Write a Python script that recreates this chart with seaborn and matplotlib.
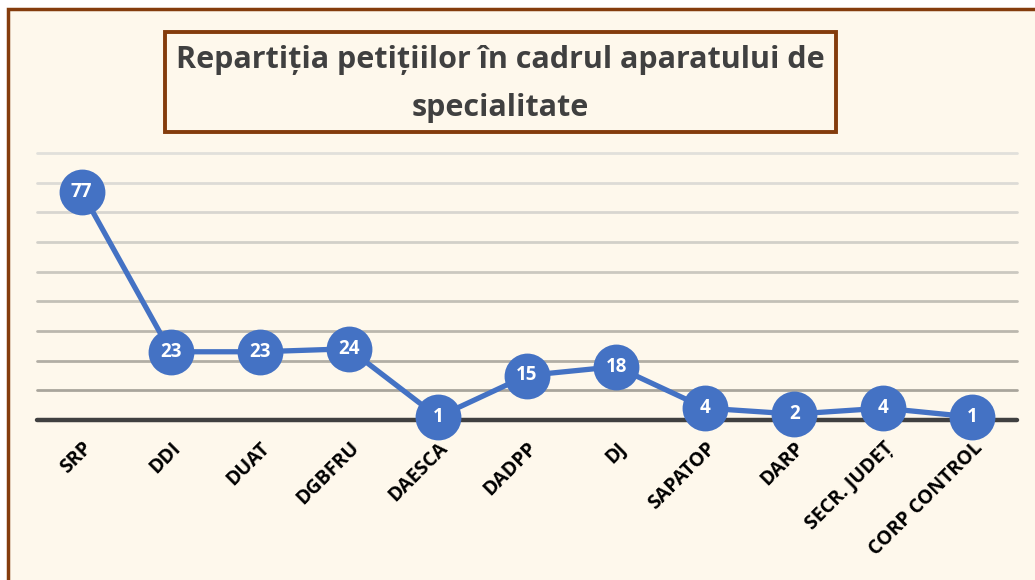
import matplotlib
matplotlib.use("Agg")
import matplotlib.pyplot as plt
import seaborn as sns
import pandas as pd
from matplotlib.patches import Rectangle

# ==============================
# Data
# ==============================
categories = ["SRP", "DDI", "DUAT", "DGBFRU", "DAESCA", "DADPP", "DJ",
              "SAPATOP", "DARP", "SECR. JUDEȚ", "CORP CONTROL"]
petitions = [77, 23, 23, 24, 1, 15, 18, 4, 2, 4, 1]
title = "Repartiția petițiilor în cadrul aparatului de\nspecialitate"

BG = "#FEF8EC"
BROWN = "#843C0C"
BLUE = "#4472C4"

sns.set_theme(style="white")
plt.rcParams["font.family"] = ["Open Sans", "DejaVu Sans"]

df = pd.DataFrame({"cat": categories, "val": petitions})

fig = plt.figure(figsize=(10.35, 5.8), dpi=100)
fig.patch.set_facecolor("white")

# outer frame (only left/top visible in the crop)
fig.patches.append(Rectangle((8 / 1035, -0.1), 1.2, 1 - 9 / 580 + 0.1,
                             transform=fig.transFigure, facecolor=BG,
                             edgecolor=BROWN, linewidth=2.5, zorder=-5))

ax = fig.add_axes([37 / 1035, 1 - 420 / 580, 980 / 1035, 267 / 580])
ax.set_facecolor("none")
ax.set_zorder(2)

# gridlines, lighter at the top
grid_colors = ["#A9A59C", "#B2AEA5", "#BBB7AE", "#C3C0B7", "#CBC8C0",
               "#D2D0C9", "#D8D6D0", "#DDDBD6", "#E1E0DB"]
for i, c in enumerate(grid_colors):
    ax.axhline((i + 1) * 10, color=c, linewidth=2, zorder=1)
ax.axhline(0, color="#404040", linewidth=3.2, zorder=1)

sns.lineplot(data=df, x="cat", y="val", ax=ax, color=BLUE, linewidth=3.8,
             marker="o", markersize=33, markeredgewidth=0,
             markerfacecolor=BLUE, zorder=3, sort=False)

for i, v in enumerate(petitions):
    ax.text(i, v, str(v), ha="center", va="center", color="white",
            fontsize=13.5, fontweight="bold", zorder=4)

ax.set_xlim(-0.5, len(categories) - 0.5)
ax.set_ylim(0, 90)
ax.set_yticks([])
ax.set_xlabel("")
ax.set_ylabel("")
ax.tick_params(axis="x", length=0, pad=13)
ax.set_xticks(range(len(categories)))
ax.set_xticklabels(categories, rotation=45, ha="right", va="top",
                   rotation_mode="anchor", fontsize=14, fontweight="bold",
                   color="black")
for line in ax.lines:
    line.set_clip_on(False)
sns.despine(ax=ax, left=True, bottom=True)

# title box
fig.patches.append(Rectangle((165 / 1035, 1 - 132 / 580), 671 / 1035, 100 / 580,
                             transform=fig.transFigure, facecolor="none",
                             edgecolor=BROWN, linewidth=2.8, zorder=5))
fig.text(500 / 1035, 1 - 84 / 580, title, ha="center", va="center",
         fontsize=22, fontweight="bold", color="#404040", linespacing=1.75,
         zorder=6)

fig.savefig("out.png", dpi=100, facecolor=fig.get_facecolor())
